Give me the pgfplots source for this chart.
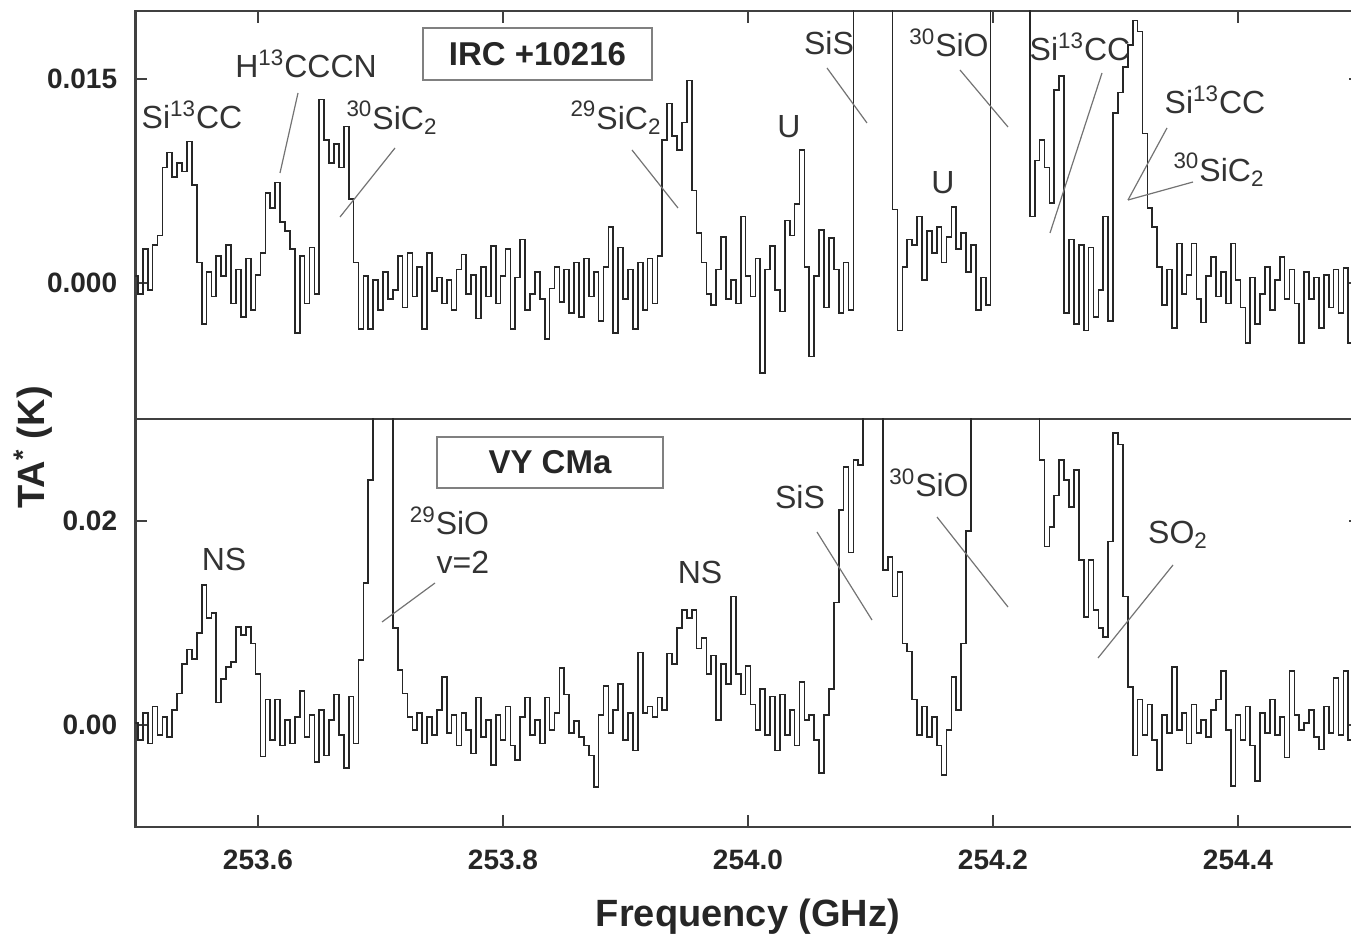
\documentclass[border=0pt]{standalone}
\usepackage{pgfplots}
\pgfplotsset{compat=1.18}
\usepackage{fontspec}
\setmainfont{Liberation Sans}
\pgfplotsset{
  spec/.style={scale only axis, width=612.5pt, height=204pt,
    xmin=253.5, xmax=254.5,
    axis line style={black!75, line width=1.1pt},
    tick style={black!75, line width=1pt},
    major tick length=6pt, tick align=inside,
    xtick={253.6,253.8,254.0,254.2,254.4},
    scaled y ticks=false, scaled x ticks=false,
    ticklabel style={font=\bfseries\fontsize{14}{16}\selectfont, text=black!85, inner sep=0pt},
    yticklabel style={xshift=-9pt},
    xticklabel style={yshift=-11.5pt},
    clip=true},
  sp/.style={const plot mark mid, black!85, line width=0.85pt, no marks}
}
\tikzset{ann/.style={font=\fontsize{16}{19.5}\selectfont, text=black!80, inner sep=0pt},
         lead/.style={black!55, line width=0.6pt}}
\begin{document}
\begin{tikzpicture}
% ---------------- top panel: IRC +10216 ----------------
\begin{axis}[spec, at={(0pt,204pt)}, anchor=south west,
  ymin=-0.01, ymax=0.02, ytick={0,0.015}, yticklabels={0.000,0.015},
  xtick pos=right, xticklabels={}]
\addplot[sp] coordinates {
(253.500,0.0005) (253.504,-0.0008) (253.508,0.0025) (253.512,-0.0005) (253.516,0.0028) (253.520,0.0035) (253.524,0.0085) (253.528,0.0096) (253.532,0.0078) (253.536,0.0088)
(253.540,0.0082) (253.544,0.0104) (253.548,0.0072) (253.552,0.0015) (253.556,-0.0030) (253.560,0.0008) (253.564,-0.0010) (253.568,0.0020) (253.572,0.0005) (253.576,0.0028)
(253.580,-0.0015) (253.584,0.0010) (253.588,-0.0025) (253.592,0.0018) (253.596,-0.0020) (253.600,0.0006) (253.604,0.0022) (253.608,0.0066) (253.612,0.0055) (253.616,0.0074)
(253.620,0.0045) (253.624,0.0038) (253.628,0.0025) (253.632,-0.0037) (253.636,0.0020) (253.640,-0.0015) (253.644,0.0026) (253.648,-0.0008) (253.652,0.0135) (253.656,0.0105)
(253.660,0.0088) (253.664,0.0102) (253.668,0.0085) (253.672,0.0115) (253.676,0.0062) (253.680,0.0015) (253.684,-0.0034) (253.688,0.0005) (253.692,-0.0034) (253.696,0.0002)
(253.700,-0.0020) (253.704,0.0008) (253.708,-0.0012) (253.712,-0.0005) (253.716,0.0020) (253.720,-0.0018) (253.724,0.0022) (253.728,-0.0010) (253.732,0.0012) (253.736,-0.0034)
(253.740,0.0022) (253.744,-0.0006) (253.748,0.0004) (253.752,-0.0015) (253.756,0.0002) (253.760,-0.0020) (253.764,0.0010) (253.768,0.0021) (253.772,-0.0008) (253.776,0.0006)
(253.780,-0.0026) (253.784,0.0012) (253.788,-0.0010) (253.792,0.0027) (253.796,-0.0015) (253.800,0.0005) (253.804,0.0025) (253.808,-0.0034) (253.812,0.0004) (253.816,0.0032)
(253.820,-0.0020) (253.824,-0.0008) (253.828,0.0008) (253.832,-0.0012) (253.836,-0.0041) (253.840,-0.0004) (253.844,0.0012) (253.848,-0.0014) (253.852,0.0010) (253.856,-0.0022)
(253.860,0.0015) (253.864,-0.0025) (253.868,0.0018) (253.872,-0.0010) (253.876,0.0008) (253.880,-0.0028) (253.884,0.0012) (253.888,0.0041) (253.892,-0.0037) (253.896,0.0026)
(253.900,-0.0012) (253.904,0.0010) (253.908,-0.0034) (253.912,0.0015) (253.916,-0.0020) (253.920,0.0018) (253.924,-0.0015) (253.928,0.0020) (253.932,0.0105) (253.936,0.0132)
(253.940,0.0108) (253.944,0.0098) (253.948,0.0118) (253.952,0.0149) (253.956,0.0068) (253.960,0.0037) (253.964,0.0015) (253.968,-0.0008) (253.972,-0.0016) (253.976,0.0010)
(253.980,0.0034) (253.984,-0.0012) (253.988,0.0002) (253.992,-0.0015) (253.996,0.0049) (254.000,0.0005) (254.004,-0.0010) (254.008,0.0018) (254.012,-0.0066) (254.016,0.0010)
(254.020,0.0027) (254.024,-0.0005) (254.028,-0.0021) (254.032,0.0046) (254.036,0.0035) (254.040,0.0058) (254.044,0.0098) (254.048,0.0012) (254.052,-0.0054) (254.056,0.0005)
(254.060,0.0039) (254.064,-0.0018) (254.068,0.0033) (254.072,0.0010) (254.076,-0.0022) (254.080,0.0015) (254.084,-0.0020) (254.088,0.0350) (254.092,0.0600) (254.096,0.0800)
(254.100,0.0900) (254.104,0.0850) (254.108,0.0650) (254.112,0.0450) (254.116,0.0280) (254.120,0.0054) (254.124,-0.0035) (254.128,0.0012) (254.132,0.0032) (254.136,0.0028)
(254.140,0.0049) (254.144,0.0002) (254.148,0.0038) (254.152,0.0022) (254.156,0.0041) (254.160,0.0015) (254.164,0.0034) (254.168,0.0056) (254.172,0.0025) (254.176,0.0037)
(254.180,0.0008) (254.184,0.0028) (254.188,-0.0020) (254.192,0.0004) (254.196,-0.0016) (254.200,0.0250) (254.204,0.0450) (254.208,0.0650) (254.212,0.0800) (254.216,0.0700)
(254.220,0.0550) (254.224,0.0400) (254.228,0.0260) (254.232,0.0049) (254.236,0.0090) (254.240,0.0105) (254.244,0.0085) (254.248,0.0059) (254.252,0.0142) (254.256,0.0152)
(254.260,-0.0022) (254.264,0.0032) (254.268,-0.0030) (254.272,0.0028) (254.276,-0.0035) (254.280,0.0026) (254.284,-0.0025) (254.288,-0.0005) (254.292,0.0049) (254.296,-0.0028)
(254.300,0.0125) (254.304,0.0140) (254.308,0.0159) (254.312,0.0175) (254.316,0.0193) (254.320,0.0185) (254.324,0.0110) (254.328,0.0055) (254.332,0.0041) (254.336,0.0012)
(254.340,-0.0016) (254.344,0.0010) (254.348,-0.0033) (254.352,0.0029) (254.356,-0.0008) (254.360,0.0006) (254.364,0.0029) (254.368,-0.0012) (254.372,-0.0029) (254.376,0.0005)
(254.380,0.0019) (254.384,-0.0010) (254.388,0.0008) (254.392,-0.0015) (254.396,0.0029) (254.400,0.0002) (254.404,-0.0018) (254.408,-0.0044) (254.412,0.0004) (254.416,-0.0030)
(254.420,-0.0008) (254.424,0.0012) (254.428,-0.0020) (254.432,0.0002) (254.436,0.0019) (254.440,-0.0012) (254.444,0.0010) (254.448,-0.0015) (254.452,-0.0044) (254.456,0.0008)
(254.460,-0.0012) (254.464,0.0004) (254.468,-0.0033) (254.472,0.0006) (254.476,-0.0018) (254.480,0.0010) (254.484,-0.0022) (254.488,0.0011) (254.492,-0.0044) (254.496,0.0005)
};
\end{axis}
% ---------------- bottom panel: VY CMa ----------------
\begin{axis}[spec, at={(0pt,0pt)}, anchor=south west,
  ymin=-0.01, ymax=0.03, ytick={0,0.02}, yticklabels={0.00,0.02},
  xtick pos=left, xticklabels={253.6,253.8,254.0,254.2,254.4}]
\addplot[sp] coordinates {
(253.500,0.0002) (253.504,-0.0015) (253.508,0.0012) (253.512,-0.0018) (253.516,0.0018) (253.520,-0.0010) (253.524,0.0008) (253.528,-0.0012) (253.532,0.0015) (253.536,0.0031)
(253.540,0.0060) (253.544,0.0074) (253.548,0.0065) (253.552,0.0090) (253.556,0.0137) (253.560,0.0105) (253.564,0.0110) (253.568,0.0022) (253.572,0.0045) (253.576,0.0057)
(253.580,0.0062) (253.584,0.0096) (253.588,0.0088) (253.592,0.0096) (253.596,0.0080) (253.600,0.0050) (253.604,-0.0031) (253.608,0.0025) (253.612,-0.0015) (253.616,0.0025)
(253.620,-0.0020) (253.624,0.0005) (253.628,-0.0018) (253.632,0.0008) (253.636,0.0033) (253.640,-0.0012) (253.644,0.0010) (253.648,-0.0036) (253.652,0.0015) (253.656,-0.0030)
(253.660,0.0005) (253.664,0.0030) (253.668,-0.0010) (253.672,-0.0042) (253.676,0.0028) (253.680,-0.0018) (253.684,0.0064) (253.688,0.0139) (253.692,0.0240) (253.696,0.0500)
(253.700,0.0800) (253.704,0.0700) (253.708,0.0400) (253.712,0.0095) (253.716,0.0054) (253.720,0.0031) (253.724,0.0008) (253.728,-0.0005) (253.732,0.0012) (253.736,-0.0018)
(253.740,0.0008) (253.744,-0.0010) (253.748,0.0015) (253.752,0.0047) (253.756,-0.0008) (253.760,0.0010) (253.764,-0.0020) (253.768,0.0012) (253.772,-0.0005) (253.776,-0.0028)
(253.780,0.0027) (253.784,-0.0012) (253.788,0.0005) (253.792,-0.0039) (253.796,0.0010) (253.800,-0.0015) (253.804,0.0018) (253.808,-0.0020) (253.812,-0.0034) (253.816,0.0008)
(253.820,0.0027) (253.824,-0.0010) (253.828,0.0005) (253.832,-0.0018) (253.836,0.0027) (253.840,-0.0005) (253.844,0.0012) (253.848,0.0056) (253.852,0.0030) (253.856,-0.0008)
(253.860,0.0004) (253.864,-0.0012) (253.868,-0.0020) (253.872,-0.0030) (253.876,-0.0061) (253.880,0.0010) (253.884,0.0038) (253.888,-0.0008) (253.892,0.0015) (253.896,0.0040)
(253.900,-0.0015) (253.904,0.0012) (253.908,-0.0025) (253.912,0.0071) (253.916,0.0012) (253.920,0.0018) (253.924,0.0008) (253.928,0.0027) (253.932,0.0015) (253.936,0.0070)
(253.940,0.0060) (253.944,0.0095) (253.948,0.0113) (253.952,0.0105) (253.956,0.0113) (253.960,0.0075) (253.964,0.0085) (253.968,0.0050) (253.972,0.0068) (253.976,0.0005)
(253.980,0.0060) (253.984,0.0040) (253.988,0.0126) (253.992,0.0050) (253.996,0.0030) (254.000,0.0058) (254.004,0.0020) (254.008,-0.0005) (254.012,0.0035) (254.016,-0.0010)
(254.020,0.0028) (254.024,-0.0025) (254.028,0.0030) (254.032,-0.0010) (254.036,0.0015) (254.040,-0.0020) (254.044,0.0042) (254.048,0.0005) (254.052,0.0010) (254.056,-0.0015)
(254.060,-0.0047) (254.064,0.0010) (254.068,0.0035) (254.072,0.0120) (254.076,0.0211) (254.080,0.0253) (254.084,0.0169) (254.088,0.0260) (254.092,0.0255) (254.096,0.0350)
(254.100,0.0600) (254.104,0.0700) (254.108,0.0450) (254.112,0.0152) (254.116,0.0165) (254.120,0.0126) (254.124,0.0150) (254.128,0.0080) (254.132,0.0072) (254.136,0.0025)
(254.140,-0.0010) (254.144,0.0018) (254.148,-0.0012) (254.152,0.0008) (254.156,-0.0020) (254.160,-0.0049) (254.164,-0.0005) (254.168,0.0047) (254.172,0.0015) (254.176,0.0080)
(254.180,0.0190) (254.184,0.0320) (254.188,0.0500) (254.192,0.0700) (254.196,0.0900) (254.200,0.1000) (254.204,0.1000) (254.208,0.0900) (254.212,0.0800) (254.216,0.0700)
(254.220,0.0600) (254.224,0.0500) (254.228,0.0450) (254.232,0.0400) (254.236,0.0350) (254.240,0.0260) (254.244,0.0175) (254.248,0.0194) (254.252,0.0225) (254.256,0.0260)
(254.260,0.0240) (254.264,0.0214) (254.268,0.0250) (254.272,0.0162) (254.276,0.0106) (254.280,0.0162) (254.284,0.0113) (254.288,0.0095) (254.292,0.0086) (254.296,0.0180)
(254.300,0.0286) (254.304,0.0275) (254.308,0.0126) (254.312,0.0037) (254.316,-0.0030) (254.320,0.0025) (254.324,-0.0010) (254.328,0.0020) (254.332,-0.0015) (254.336,-0.0044)
(254.340,0.0010) (254.344,-0.0008) (254.348,0.0057) (254.352,-0.0005) (254.356,0.0012) (254.360,-0.0018) (254.364,0.0020) (254.368,-0.0008) (254.372,0.0005) (254.376,-0.0012)
(254.380,0.0015) (254.384,0.0025) (254.388,0.0053) (254.392,-0.0005) (254.396,-0.0060) (254.400,0.0010) (254.404,-0.0015) (254.408,0.0018) (254.412,-0.0020) (254.416,-0.0055)
(254.420,0.0012) (254.424,-0.0008) (254.428,0.0025) (254.432,-0.0010) (254.436,0.0008) (254.440,-0.0032) (254.444,0.0053) (254.448,0.0010) (254.452,-0.0005) (254.456,0.0002)
(254.460,0.0015) (254.464,-0.0012) (254.468,-0.0024) (254.472,0.0018) (254.476,-0.0008) (254.480,0.0046) (254.484,-0.0010) (254.488,0.0053) (254.492,-0.0015) (254.496,0.0008)
};
\end{axis}
\begin{scope}[x=1pt, y=1pt]
% ---------------- annotations (top) ----------------
\node[ann] at (28.25,356) {Si\textsuperscript{13}CC};
\node[ann] at (85.25,381.5) {H\textsuperscript{13}CCCN};
\draw[lead] (81.25,367) -- (72.25,327);
\node[ann] at (128.25,354.5) {\textsuperscript{30}SiC\textsubscript{2}};
\draw[lead] (129.75,339.5) -- (102.25,305);
\node[draw=black!50, line width=0.9pt, minimum width=114.5pt, minimum height=26pt, inner sep=0pt,
      font=\bfseries\fontsize{16.5}{19}\selectfont, text=black!85] at (201,386.5) {IRC +10216};
\node[ann] at (240.25,354.5) {\textsuperscript{29}SiC\textsubscript{2}};
\draw[lead] (248.25,338.5) -- (271.25,309.5);
\node[ann] at (326.75,350) {U};
\node[ann] at (346.75,392) {SiS};
\draw[lead] (345.75,379.5) -- (365.75,352);
\node[ann] at (406.75,392) {\textsuperscript{30}SiO};
\draw[lead] (412.25,378.5) -- (436.25,350);
\node[ann] at (403.75,322) {U};
\node[ann] at (472.25,390) {Si\textsuperscript{13}CC};
\draw[lead] (483.25,377) -- (457.25,297);
\node[ann] at (539.75,363.5) {Si\textsuperscript{13}CC};
\draw[lead] (515.75,349.5) -- (496.25,313.5);
\node[ann] at (541.75,328.5) {\textsuperscript{30}SiC\textsubscript{2}};
\draw[lead] (528.75,322.5) -- (496.25,313.5);
% ---------------- annotations (bottom) ----------------
\node[draw=black!50, line width=0.9pt, minimum width=113pt, minimum height=25.5pt, inner sep=0pt,
      font=\bfseries\fontsize{16.5}{19}\selectfont, text=black!85] at (207.25,182.25) {VY CMa};
\node[ann] at (44.25,134) {NS};
\node[ann, align=right, anchor=east] at (177,143.5) {\textsuperscript{29}SiO\\v=2};
\draw[lead] (149.75,122) -- (123.25,102.5);
\node[ann] at (282.25,127.5) {NS};
\node[ann] at (332.25,165) {SiS};
\draw[lead] (340.75,147.5) -- (368.25,103.5);
\node[ann] at (396.75,172) {\textsuperscript{30}SiO};
\draw[lead] (400.75,155) -- (436.25,110);
\node[ann] at (521.25,146) {SO\textsubscript{2}};
\draw[lead] (518.75,131) -- (481.25,84.5);
% ---------------- axis titles ----------------
\node[rotate=90, font=\bfseries\fontsize{19}{22}\selectfont, text=black!85] at (-51.25,189.75) {TA\textsuperscript{*} (K)};
\node[font=\bfseries\fontsize{19}{22}\selectfont, text=black!85] at (306.25,-45) {Frequency (GHz)};
\end{scope}
\pgfresetboundingbox
\useasboundingbox (-67.75pt,-55.5pt) rectangle (607.75pt,413.5pt);
\end{tikzpicture}
\end{document}
